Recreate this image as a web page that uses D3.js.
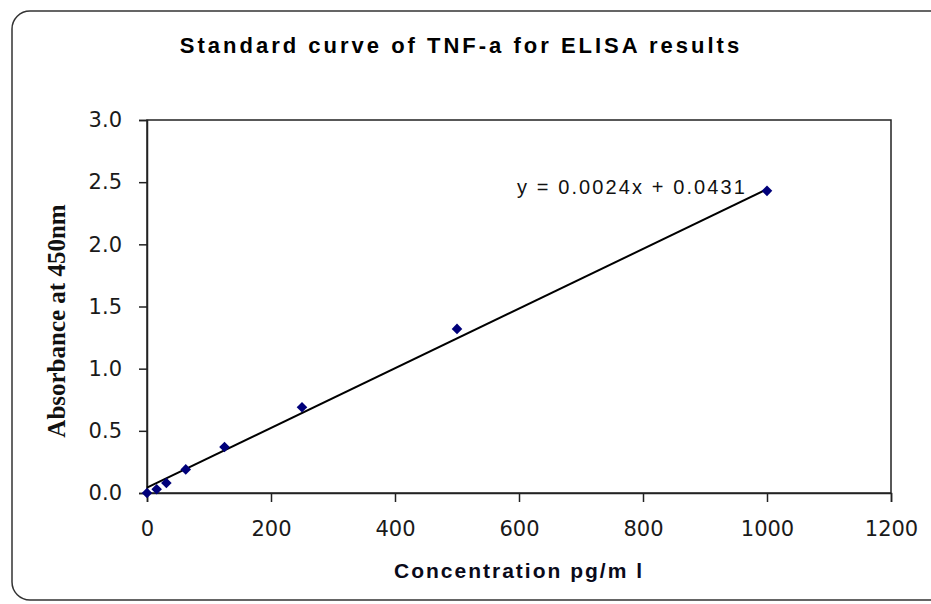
<!DOCTYPE html>
<html lang="en">
<head>
<meta charset="UTF-8">
<title>Standard curve of TNF-a</title>
<script src="https://cdn.jsdelivr.net/npm/d3@7/dist/d3.min.js"></script>
<style>
  body { margin: 0; background: #fff; }
</style>
</head>
<body>
<script>
  // standard concentrations (pg/ml) and absorbance readings
  var concentrations = [0, 15.6, 31.25, 62.5, 125, 250, 500, 1000];
  var absorbance = [0.0, 0.03, 0.08, 0.19, 0.37, 0.69, 1.32, 2.43];
  var xTicks = [0, 200, 400, 600, 800, 1000, 1200];
  var yTicks = [0, 0.5, 1.0, 1.5, 2.0, 2.5, 3.0];
  var slope = 0.0024, intercept = 0.0431;

  var width = 931, height = 604;
  var svg = d3.select("body").append("svg").attr("width", width).attr("height", height);

  // outer rounded frame
  svg.append("rect").attr("x", 12).attr("y", 11).attr("width", 940).attr("height", 589)
    .attr("rx", 18).attr("fill", "none").attr("stroke", "#333").attr("stroke-width", 1.5);

  var x = d3.scaleLinear().domain([0, 1200]).range([147, 891]);
  var y = d3.scaleLinear().domain([0, 3]).range([493, 120]);

  // plot box
  svg.append("rect").attr("x", x(0)).attr("y", y(3)).attr("width", x(1200) - x(0)).attr("height", y(0) - y(3))
    .attr("fill", "none").attr("stroke", "#222").attr("stroke-width", 1.5);

  var xAxis = svg.append("g").attr("transform", "translate(0," + y(0) + ")")
    .call(d3.axisBottom(x).tickValues(xTicks).tickSize(9).tickPadding(19).tickFormat(d3.format("d")));
  var yAxis = svg.append("g").attr("transform", "translate(" + x(0) + ",0)")
    .call(d3.axisLeft(y).tickValues(yTicks).tickSize(8).tickPadding(17).tickFormat(d3.format(".1f")));

  [xAxis, yAxis].forEach(function (g) {
    g.select(".domain").attr("stroke", "#222").attr("stroke-width", 1.5);
    g.selectAll(".tick line").attr("stroke", "#222").attr("stroke-width", 1.5);
    g.selectAll(".tick text").attr("fill", "#1a1a1a")
      .style("font-family", "'DejaVu Sans', sans-serif").style("font-size", "21px");
  });

  // trend line
  svg.append("line")
    .attr("x1", x(0)).attr("y1", y(intercept))
    .attr("x2", x(1000)).attr("y2", y(slope * 1000 + intercept))
    .attr("stroke", "#000").attr("stroke-width", 2);

  // data markers
  var sym = d3.symbol().type(d3.symbolSquare).size(56);
  svg.selectAll("path.pt").data(concentrations).enter().append("path")
    .attr("class", "pt")
    .attr("d", sym)
    .attr("transform", function (d, i) {
      return "translate(" + x(d) + "," + y(absorbance[i]) + ") rotate(45)";
    })
    .attr("fill", "#00007a");

  // equation
  svg.append("text").attr("x", 517).attr("y", 194)
    .style("font-family", "'Liberation Sans', Arial, sans-serif").style("font-size", "20px")
    .style("letter-spacing", "2.1px")
    .attr("fill", "#111")
    .text("y = 0.0024x + 0.0431");

  // title
  svg.append("text").attr("x", 461).attr("y", 53).attr("text-anchor", "middle")
    .style("font-family", "'Liberation Sans', Arial, sans-serif").style("font-size", "22px")
    .style("font-weight", "bold").style("letter-spacing", "3px")
    .attr("fill", "#000")
    .text("Standard curve of TNF-a for ELISA results");

  // axis titles
  svg.append("text").attr("x", 519).attr("y", 578).attr("text-anchor", "middle")
    .style("font-family", "'Liberation Sans', Arial, sans-serif").style("font-size", "21px")
    .style("font-weight", "bold").style("letter-spacing", "2px")
    .attr("fill", "#0a0a1a")
    .text("Concentration pg/m l");

  svg.append("text").attr("transform", "translate(65,321) rotate(-90)").attr("text-anchor", "middle")
    .style("font-family", "'Liberation Serif', 'Times New Roman', serif").style("font-size", "25px")
    .style("font-weight", "bold")
    .attr("fill", "#111")
    .text("Absorbance at 450nm");
</script>
</body>
</html>
